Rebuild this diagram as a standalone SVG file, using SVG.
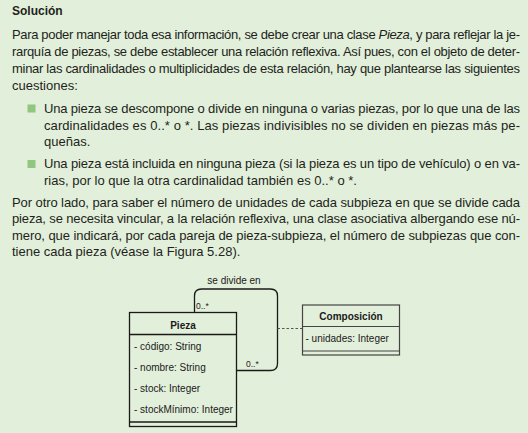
<svg xmlns="http://www.w3.org/2000/svg" width="528" height="433" viewBox="0 0 528 433">
<style>
.t{font-family:"Liberation Sans",Arial,sans-serif;font-size:13px;fill:#231f20}
.h{font-family:"Liberation Sans",Arial,sans-serif;font-size:12px;font-weight:bold;fill:#231f20}
.d{font-family:"Liberation Sans",Arial,sans-serif;font-size:10px;fill:#1a1a1a}
.db{font-family:"Liberation Sans",Arial,sans-serif;font-size:10px;font-weight:bold;fill:#1a1a1a}
.m{font-family:"Liberation Sans",Arial,sans-serif;font-size:8.5px;fill:#1a1a1a}
.box{fill:none;stroke:#1a1a1a;stroke-width:1.3}
.box2{fill:none;stroke:#444;stroke-width:1.2}
.bul{fill:#90c67f}
</style>
<rect x="0" y="0" width="528" height="433" fill="#e2efda"/>
<g id="text">
<text class="h" x="12" y="15">Solución</text>
<text class="t" x="12" y="39" textLength="508" lengthAdjust="spacing">Para poder manejar toda esa información, se debe crear una clase <tspan font-style="italic">Pieza</tspan>, y para reflejar la je-</text>
<text class="t" x="12" y="56" textLength="508" lengthAdjust="spacing">rarquía de piezas, se debe establecer una relación reflexiva. Así pues, con el objeto de deter-</text>
<text class="t" x="12" y="73" textLength="508" lengthAdjust="spacing">minar las cardinalidades o multiplicidades de esta relación, hay que plantearse las siguientes</text>
<text class="t" x="12" y="90">cuestiones:</text>
<rect class="bul" x="27.5" y="104.5" width="8" height="8"/>
<text class="t" x="44" y="113" textLength="476" lengthAdjust="spacing">Una pieza se descompone o divide en ninguna o varias piezas, por lo que una de las</text>
<text class="t" x="44" y="130" textLength="476" lengthAdjust="spacing">cardinalidades es 0..* o *. Las piezas indivisibles no se dividen en piezas más pe-</text>
<text class="t" x="44" y="146">queñas.</text>
<rect class="bul" x="27.5" y="160" width="8" height="8"/>
<text class="t" x="44" y="168" textLength="476" lengthAdjust="spacing">Una pieza está incluida en ninguna pieza (si la pieza es un tipo de vehículo) o en va-</text>
<text class="t" x="44" y="185">rias, por lo que la otra cardinalidad también es 0..* o *.</text>
<text class="t" x="12" y="207" textLength="508" lengthAdjust="spacing">Por otro lado, para saber el número de unidades de cada subpieza en que se divide cada</text>
<text class="t" x="12" y="223" textLength="508" lengthAdjust="spacing">pieza, se necesita vincular, a la relación reflexiva, una clase asociativa albergando ese nú-</text>
<text class="t" x="12" y="240" textLength="508" lengthAdjust="spacing">mero, que indicará, por cada pareja de pieza-subpieza, el número de subpiezas que con-</text>
<text class="t" x="12" y="256">tiene cada pieza (véase la Figura 5.28).</text>
</g>
<g id="connectors">
<path d="M194.5,312.5 V296 Q194.5,289 201.5,289 H270.5 Q277.5,289 277.5,296 V363.5 Q277.5,370.5 270.5,370.5 H236.5" fill="none" stroke="#1a1a1a" stroke-width="1.3"/>
<line x1="277.5" y1="328.5" x2="302.5" y2="328.5" stroke="#555" stroke-width="1" stroke-dasharray="2.5,2"/>
<text class="d" x="234" y="284" text-anchor="middle">se divide en</text>
<text class="m" x="196" y="309">0..*</text>
<text class="m" x="246" y="366.5">0..*</text>
</g>
<g id="pieza">
<rect class="box" x="129.5" y="312.5" width="107" height="114"/>
<line class="box" x1="129.5" y1="334.5" x2="236.5" y2="334.5"/>
<line class="box" x1="129.5" y1="422" x2="236.5" y2="422"/>
<text class="db" x="183" y="328.5" text-anchor="middle">Pieza</text>
<text class="d" x="134" y="349.5">- código: String</text>
<text class="d" x="134" y="370.5">- nombre: String</text>
<text class="d" x="134" y="391.5">- stock: Integer</text>
<text class="d" x="134" y="412.5">- stockMínimo: Integer</text>
</g>
<g id="composicion">
<rect class="box2" x="302.5" y="305" width="97" height="50"/>
<line class="box2" x1="302.5" y1="326.5" x2="399.5" y2="326.5"/>
<line class="box2" x1="302.5" y1="351" x2="399.5" y2="351"/>
<text class="db" x="351" y="320" text-anchor="middle">Composición</text>
<text class="d" x="305.5" y="341.5">- unidades: Integer</text>
</g>
</svg>
